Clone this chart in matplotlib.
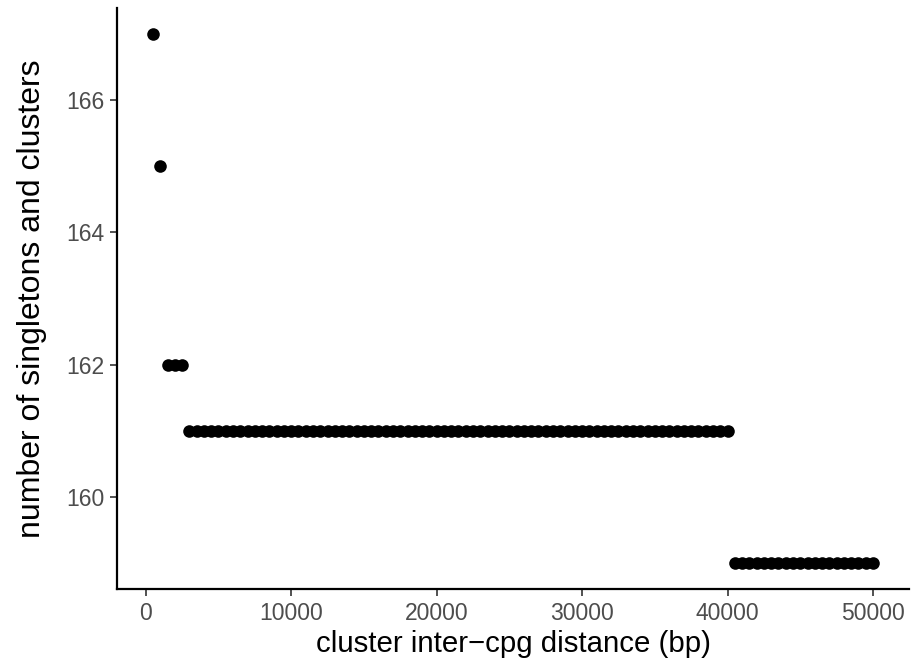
import matplotlib
matplotlib.use("Agg")
import matplotlib.pyplot as plt

plt.rcParams['font.family'] = ['Liberation Sans', 'DejaVu Sans']

# cluster inter-cpg distance (bp)
distance = [
    500, 1000, 1500, 2000, 2500, 3000, 3500, 4000, 4500, 5000,
    5500, 6000, 6500, 7000, 7500, 8000, 8500, 9000, 9500, 10000,
    10500, 11000, 11500, 12000, 12500, 13000, 13500, 14000, 14500, 15000,
    15500, 16000, 16500, 17000, 17500, 18000, 18500, 19000, 19500, 20000,
    20500, 21000, 21500, 22000, 22500, 23000, 23500, 24000, 24500, 25000,
    25500, 26000, 26500, 27000, 27500, 28000, 28500, 29000, 29500, 30000,
    30500, 31000, 31500, 32000, 32500, 33000, 33500, 34000, 34500, 35000,
    35500, 36000, 36500, 37000, 37500, 38000, 38500, 39000, 39500, 40000,
    40500, 41000, 41500, 42000, 42500, 43000, 43500, 44000, 44500, 45000,
    45500, 46000, 46500, 47000, 47500, 48000, 48500, 49000, 49500, 50000,
]
# number of singletons and clusters
count = [167, 165, 162, 162, 162] + [161] * 75 + [159] * 20

x_ticks = [0, 10000, 20000, 30000, 40000, 50000]
y_ticks = [160, 162, 164, 166]

fig = plt.figure(figsize=(9.13, 6.66), dpi=100)
ax = fig.add_axes([117 / 913, 77 / 666, (909 - 117) / 913, (658 - 77) / 666])

ax.scatter(distance, count, s=82, color='black', linewidths=0, zorder=3)

xr = max(distance) - min(distance)
ax.set_xlim(min(distance) - 0.05 * xr, max(distance) + 0.05 * xr)
yr = max(count) - min(count)
ax.set_ylim(min(count) - 0.05 * yr, max(count) + 0.05 * yr)

ax.set_xticks(x_ticks)
ax.set_xticklabels([str(v) for v in x_ticks])
ax.set_yticks(y_ticks)
ax.set_yticklabels([str(v) for v in y_ticks])

for s in ['top', 'right']:
    ax.spines[s].set_visible(False)
for s in ['left', 'bottom']:
    ax.spines[s].set_linewidth(1.6)
    ax.spines[s].set_color('black')

ax.tick_params(axis='both', length=5, width=1.2, color='#333333',
               labelsize=16.5, labelcolor='#4D4D4D', pad=4)

ax.set_xlabel('cluster inter\u2212cpg distance (bp)', fontsize=21.2, labelpad=4)
ax.set_ylabel('number of singletons and clusters', fontsize=23, labelpad=14)

fig.savefig('out.png', dpi=100)
